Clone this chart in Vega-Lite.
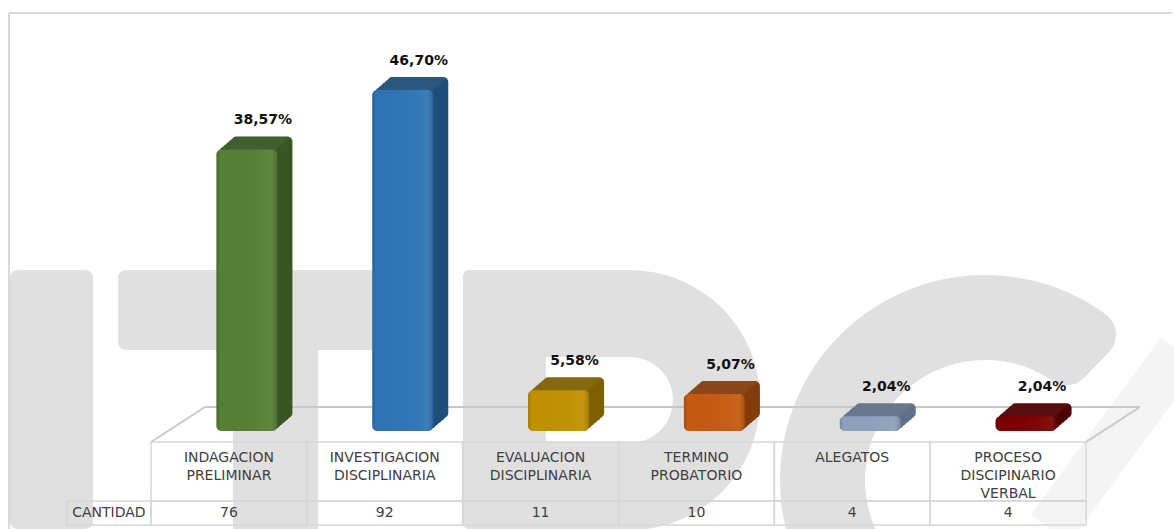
{
"$schema":"https://vega.github.io/schema/vega-lite/v6.json",
"width":1174,"height":529,"padding":0,"autosize":"none","background":"white",
"config":{"axis":{"disable":true},"legend":{"disable":true},"view":{"stroke":null},"font":"DejaVu Sans"},
"datasets":{
"d":[
{"categoria":"INDAGACION PRELIMINAR","etiqueta_eje":"INDAGACION|PRELIMINAR","porcentaje":38.57,"etiqueta":"38,57%","cantidad":76},
{"categoria":"INVESTIGACION DISCIPLINARIA","etiqueta_eje":"INVESTIGACION|DISCIPLINARIA","porcentaje":46.70,"etiqueta":"46,70%","cantidad":92},
{"categoria":"EVALUACION DISCIPLINARIA","etiqueta_eje":"EVALUACION|DISCIPLINARIA","porcentaje":5.58,"etiqueta":"5,58%","cantidad":11},
{"categoria":"TERMINO PROBATORIO","etiqueta_eje":"TERMINO|PROBATORIO","porcentaje":5.07,"etiqueta":"5,07%","cantidad":10},
{"categoria":"ALEGATOS","etiqueta_eje":"ALEGATOS","porcentaje":2.04,"etiqueta":"2,04%","cantidad":4},
{"categoria":"PROCESO DISCIPINARIO VERBAL","etiqueta_eje":"PROCESO|DISCIPINARIO|VERBAL","porcentaje":2.04,"etiqueta":"2,04%","cantidad":4}
],
"marca":[{"m":"logo"}]
},
"resolve":{"scale":{"x":"independent"}},
"layer":[
{"data":{"name":"marca"},
 "layer":[
 {"mark":{"type":"rule","color":"#f4f4f4","strokeWidth":48},
  "encoding":{"x":{"datum":6.603,"type":"quantitative","scale":{"domain":[-0.969,6.565],"range":[0,1174],"nice":false,"zero":false}},"x2":{"datum":5.769},"y":{"datum":10.82,"type":"quantitative","scale":{"domain":[-13.42,59.04],"range":[529,0],"nice":false,"zero":false}},"y2":{"datum":-13.42}}},
 {"mark":{"type":"rect","color":"#e0e0e0","cornerRadius":8},
  "encoding":{"x":{"datum":-0.905,"type":"quantitative"},"x2":{"datum":-0.372},"y":{"datum":22.05,"type":"quantitative"},"y2":{"datum":-13.42}}},
 {"mark":{"type":"rect","color":"#e0e0e0","cornerRadius":8},
  "encoding":{"x":{"datum":-0.212,"type":"quantitative"},"x2":{"datum":1.887},"y":{"datum":22.05,"type":"quantitative"},"y2":{"datum":11.1}}},
 {"mark":{"type":"rect","color":"#e0e0e0"},
  "encoding":{"x":{"datum":0.526,"type":"quantitative"},"x2":{"datum":1.072},"y":{"datum":11.2,"type":"quantitative"},"y2":{"datum":-13.42}}},
 {"mark":{"type":"rect","color":"#e0e0e0","cornerRadius":6},
  "encoding":{"x":{"datum":2.002,"type":"quantitative"},"x2":{"datum":2.535},"y":{"datum":22.05,"type":"quantitative"},"y2":{"datum":-13.42}}},
 {"mark":{"type":"rect","color":"#e0e0e0"},
  "encoding":{"x":{"datum":2.5,"type":"quantitative"},"x2":{"datum":3.074},"y":{"datum":22.05,"type":"quantitative"},"y2":{"datum":10.14}}},
 {"mark":{"type":"rect","color":"#e0e0e0"},
  "encoding":{"x":{"datum":2.5,"type":"quantitative"},"x2":{"datum":3.074},"y":{"datum":-1.51,"type":"quantitative"},"y2":{"datum":-13.42}}},
 {"mark":{"type":"arc","color":"#e0e0e0","theta":0,"theta2":3.1416,"radius":130,"radius2":43},
  "encoding":{"x":{"datum":3.074,"type":"quantitative"},"y":{"datum":4.25,"type":"quantitative"}}},
 {"mark":{"type":"arc","color":"#e0e0e0","theta":-2.6,"theta2":0.77,"radius":205,"radius2":120,"cornerRadius":25},
  "encoding":{"x":{"datum":5.352,"type":"quantitative"},"y":{"datum":-6.71,"type":"quantitative"}}},
 {"mark":{"type":"rule","color":"#d9d9d9","strokeWidth":2},
  "encoding":{"x":{"datum":-0.911,"type":"quantitative"},"x2":{"datum":6.552},"y":{"datum":57.26,"type":"quantitative"}}},
 {"mark":{"type":"rule","color":"#d9d9d9","strokeWidth":2},
  "encoding":{"x":{"datum":-0.911,"type":"quantitative"},"y":{"datum":57.26,"type":"quantitative"},"y2":{"datum":-13.42}}},
 {"mark":{"type":"rule","color":"#c8c8c8","strokeWidth":2},
  "encoding":{"x":{"datum":0.3465,"type":"quantitative"},"x2":{"datum":6.3465},"y":{"datum":3.29,"type":"quantitative"}}},
 {"mark":{"type":"rule","color":"#c8c8c8","strokeWidth":2},
  "encoding":{"x":{"datum":0,"type":"quantitative"},"x2":{"datum":0.3465},"y":{"datum":-1.507,"type":"quantitative"},"y2":{"datum":3.29}}},
 {"mark":{"type":"rule","color":"#c8c8c8","strokeWidth":2},
  "encoding":{"x":{"datum":6,"type":"quantitative"},"x2":{"datum":6.3465},"y":{"datum":-1.507,"type":"quantitative"},"y2":{"datum":3.29}}}
 ]},
{"data":{"name":"d"},
 "encoding":{
  "x":{"field":"categoria","type":"nominal","sort":null,"scale":{"domain":["INDAGACION PRELIMINAR","INVESTIGACION DISCIPLINARIA","EVALUACION DISCIPLINARIA","TERMINO PROBATORIO","ALEGATOS","PROCESO DISCIPINARIO VERBAL"],"range":[151,1086],"paddingInner":0,"paddingOuter":0}},
  "y":{"field":"porcentaje","type":"quantitative","stack":null,"scale":{"domain":[-13.42,59.04],"range":[529,0],"nice":false,"zero":false}},
  "y2":{"datum":0}
 },
 "layer":[
 {"mark":{"type":"rect","fill":"transparent","stroke":"#d6d6d6","strokeWidth":1.5},
  "encoding":{"y":{"datum":-1.507,"type":"quantitative"},"y2":{"datum":-9.589}}},
 {"mark":{"type":"rect","fill":"transparent","stroke":"#d6d6d6","strokeWidth":1.5},
  "encoding":{"y":{"datum":-9.589,"type":"quantitative"},"y2":{"datum":-12.877}}},
 {"transform":[{"filter":"datum.cantidad==76"}],"mark":{"type":"bar","width":84,"xOffset":-120,"fill":"transparent","stroke":"#d6d6d6","strokeWidth":1.5},
  "encoding":{"y":{"datum":-9.589,"type":"quantitative"},"y2":{"datum":-12.877}}},
 {"transform":[{"filter":"datum.cantidad==76"}],"mark":{"type":"text","text":"CANTIDAD","dx":-120,"fontSize":14,"color":"#404040","baseline":"middle"},
  "encoding":{"y":{"datum":-11.23,"type":"quantitative"},"y2":null}},

 {"mark":{"type":"bar","width":61,"xOffset":33,"yOffset":-13,"y2Offset":-13,"cornerRadius":5},"encoding":{"fill":{"field":"categoria","type":"nominal","sort":null,"scale":{"domain":["INDAGACION PRELIMINAR","INVESTIGACION DISCIPLINARIA","EVALUACION DISCIPLINARIA","TERMINO PROBATORIO","ALEGATOS","PROCESO DISCIPINARIO VERBAL"],"range":["#375623","#1f4e79","#7f6000","#843c0c","#5f7088","#4f0000"]}}}},
 {"mark":{"type":"bar","width":61,"xOffset":30,"yOffset":-10.4,"y2Offset":-10.4,"cornerRadius":5},"encoding":{"fill":{"field":"categoria","type":"nominal","sort":null}}},
 {"mark":{"type":"bar","width":61,"xOffset":27,"yOffset":-7.8,"y2Offset":-7.8,"cornerRadius":5},"encoding":{"fill":{"field":"categoria","type":"nominal","sort":null}}},
 {"mark":{"type":"bar","width":61,"xOffset":24,"yOffset":-5.2,"y2Offset":-5.2,"cornerRadius":5},"encoding":{"fill":{"field":"categoria","type":"nominal","sort":null}}},
 {"mark":{"type":"bar","width":61,"xOffset":21,"yOffset":-2.6,"y2Offset":-2.6,"cornerRadius":5},"encoding":{"fill":{"field":"categoria","type":"nominal","sort":null}}},

 {"mark":{"type":"tick","orient":"horizontal","size":59,"thickness":2.6,"xOffset":31.5,"yOffset":-11.7,"color":"#ffffff","opacity":0.06},"encoding":{"y2":null}},
 {"mark":{"type":"tick","orient":"horizontal","size":59,"thickness":2.6,"xOffset":28.5,"yOffset":-9.1,"color":"#ffffff","opacity":0.06},"encoding":{"y2":null}},
 {"mark":{"type":"tick","orient":"horizontal","size":59,"thickness":2.6,"xOffset":25.5,"yOffset":-6.5,"color":"#ffffff","opacity":0.06},"encoding":{"y2":null}},
 {"mark":{"type":"tick","orient":"horizontal","size":59,"thickness":2.6,"xOffset":22.5,"yOffset":-3.9,"color":"#ffffff","opacity":0.06},"encoding":{"y2":null}},
 {"mark":{"type":"tick","orient":"horizontal","size":59,"thickness":2.6,"xOffset":19.5,"yOffset":-1.3,"color":"#ffffff","opacity":0.06},"encoding":{"y2":null}},

 {"mark":{"type":"bar","width":61,"xOffset":18,"cornerRadius":5},"encoding":{"color":{"field":"categoria","type":"nominal","sort":null,"scale":{"domain":["INDAGACION PRELIMINAR","INVESTIGACION DISCIPLINARIA","EVALUACION DISCIPLINARIA","TERMINO PROBATORIO","ALEGATOS","PROCESO DISCIPINARIO VERBAL"],"range":["#557f33","#2e74b5","#bf9000","#c55a11","#8ba1bd","#7b0000"]}}}},
 {"mark":{"type":"bar","width":61,"xOffset":18,"cornerRadius":5,"fill":{"x1":0,"y1":0,"x2":1,"y2":0,"gradient":"linear","stops":[{"offset":0,"color":"rgba(0,0,0,0.16)"},{"offset":0.06,"color":"rgba(0,0,0,0)"},{"offset":0.75,"color":"rgba(255,255,255,0.03)"},{"offset":0.88,"color":"rgba(255,255,255,0.06)"},{"offset":1,"color":"rgba(0,0,0,0.18)"}]}}},

 {"mark":{"type":"text","lineBreak":"|","fontSize":14,"lineHeight":18,"color":"#404040","baseline":"top"},
  "encoding":{"y":{"datum":-2.75,"type":"quantitative"},"y2":null,"text":{"field":"etiqueta_eje"}}},
 {"mark":{"type":"text","fontSize":14,"color":"#404040","baseline":"middle"},
  "encoding":{"y":{"datum":-11.23,"type":"quantitative"},"y2":null,"text":{"field":"cantidad","type":"quantitative"}}},
 {"mark":{"type":"text","fontSize":14,"fontWeight":"bold","color":"#111111","dx":34,"dy":-29,"baseline":"middle"},
  "encoding":{"y2":null,"text":{"field":"etiqueta"}}}
 ]}
]
}
